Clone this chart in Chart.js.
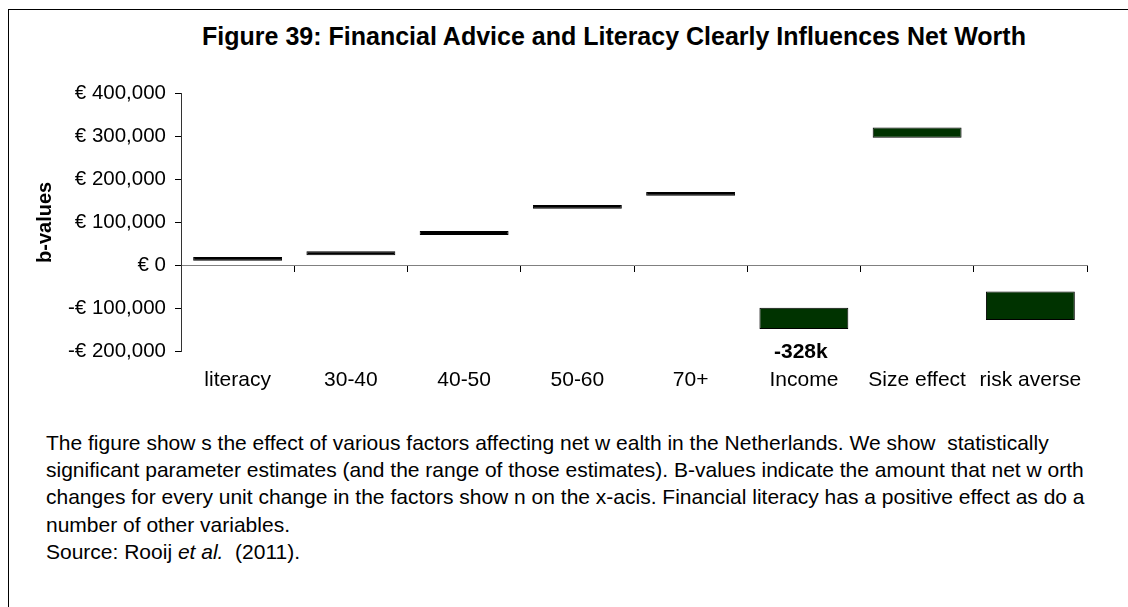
<!DOCTYPE html>
<html>
<head>
<meta charset="utf-8">
<script src="https://cdn.jsdelivr.net/npm/chart.js@4"></script>
<style>
  html, body { margin: 0; padding: 0; background: #fff; overflow: hidden; }
  body { width: 1128px; height: 607px; position: relative; font-family: "Liberation Sans", Arial, sans-serif; color: #000; }
  #frame { position: absolute; left: 8px; top: 9px; width: 2000px; height: 2000px; border: 1px solid #000; }
  #title { position: absolute; left: 0; width: 1228px; top: 22px; line-height: 29px; text-align: center; font-size: 25px; font-weight: bold; white-space: nowrap; }
  #chart { position: absolute; left: 0; top: 0; }
  #caption { position: absolute; left: 46px; top: 429px; font-size: 21px; line-height: 27.2px; white-space: nowrap; }
</style>
</head>
<body>
<div id="frame"></div>
<div id="title">Figure 39: Financial Advice and Literacy Clearly Influences Net Worth</div>
<canvas id="chart" width="1128" height="420"></canvas>
<div id="caption">
The figure show s the effect of various factors affecting net w ealth in the Netherlands. We show&nbsp; statistically<br>
significant parameter estimates (and the range of those estimates). B-values indicate the amount that net w orth<br>
changes for every unit change in the factors show n on the x-acis. Financial literacy has a positive effect as do a<br>
number of other variables.<br>
Source: Rooij <i>et al.</i>&nbsp; (2011).
</div>
<script>
'use strict';
// values (euro)
const categories = ['literacy', '30-40', '40-50', '50-60', '70+', 'Income', 'Size effect', 'risk averse'];
const lowValues = [11000, 24000, 71000, 131500, 161500, -147000, 296000, -126000];
const highValues = [20000, 33000, 80000, 140500, 170500, -98000, 320000, -60000];
const rangeCategories = ['Income', 'Size effect', 'risk averse'];
const yTicks = [-200000, -100000, 0, 100000, 200000, 300000, 400000];
// note printed under the Income bar
const notes = [{ category: 'Income', value: -200000, text: '-328k' }];

Chart.defaults.font.family = '"Liberation Sans", Arial, sans-serif';
Chart.defaults.color = '#000';

const euro = v => {
  const s = '€ ' + Math.abs(v).toLocaleString('en-US');
  return v < 0 ? '-' + s : s;
};

const notePlugin = {
  id: 'notes',
  afterDatasetsDraw(chart) {
    const { ctx, scales } = chart;
    ctx.save();
    ctx.font = 'bold 21px "Liberation Sans", Arial, sans-serif';
    ctx.fillStyle = '#000';
    ctx.textAlign = 'center';
    ctx.textBaseline = 'middle';
    notes.forEach(n => {
      const x = scales.x.getPixelForValue(categories.indexOf(n.category)) - 3;
      const y = scales.y.getPixelForValue(n.value);
      ctx.fillText(n.text, x, y);
    });
    ctx.restore();
  }
};

const data = {
  labels: categories,
  datasets: [{
    label: 'b-values',
    data: categories.map((c, i) => [lowValues[i], highValues[i]]),
    backgroundColor: categories.map(c => rangeCategories.includes(c) ? '#003300' : '#000'),
    borderColor: '#000',
    borderWidth: 1,
    borderSkipped: false,
    categoryPercentage: 1,
    barPercentage: 0.785
  }]
};

const config = {
  type: 'bar',
  data: data,
  options: {
    responsive: false,
    animation: false,
    layout: { padding: { left: 0, right: 41, top: 93, bottom: 11 } },
    plugins: {
      legend: { display: false },
      tooltip: { enabled: false },
      title: { display: false }
    },
    scales: {
      x: {
        position: 'bottom',
        grid: { display: false, drawTicks: false },
        border: { display: false },
        ticks: { font: { size: 21 }, padding: 16, color: '#000' }
      },
      x2: {
        type: 'category',
        position: { y: 0 },
        offset: true,
        grid: { offset: true, drawOnChartArea: false, drawTicks: true, tickLength: 6, tickColor: '#000', tickWidth: 1 },
        border: { display: true, color: '#808080', width: 1 },
        ticks: { display: false }
      },
      y: {
        min: -200000,
        max: 400000,
        afterBuildTicks: scale => { scale.ticks = yTicks.map(v => ({ value: v })); },
        afterFit: scale => { scale.width = 181; },
        grid: { drawOnChartArea: false, drawTicks: true, tickLength: 6, tickColor: '#000' },
        border: { display: true, color: '#333', width: 1 },
        ticks: { font: { size: 20.5 }, padding: 9, color: '#000', callback: v => euro(v) },
        title: {
          display: true,
          text: 'b-values',
          font: { size: 20, weight: 'bold' },
          padding: { top: 33, bottom: 0 },
          color: '#000'
        }
      }
    }
  },
  plugins: [notePlugin]
};

const canvasElem = document.getElementById('chart');
const myChart = new Chart(canvasElem, config);
</script>
</body>
</html>
